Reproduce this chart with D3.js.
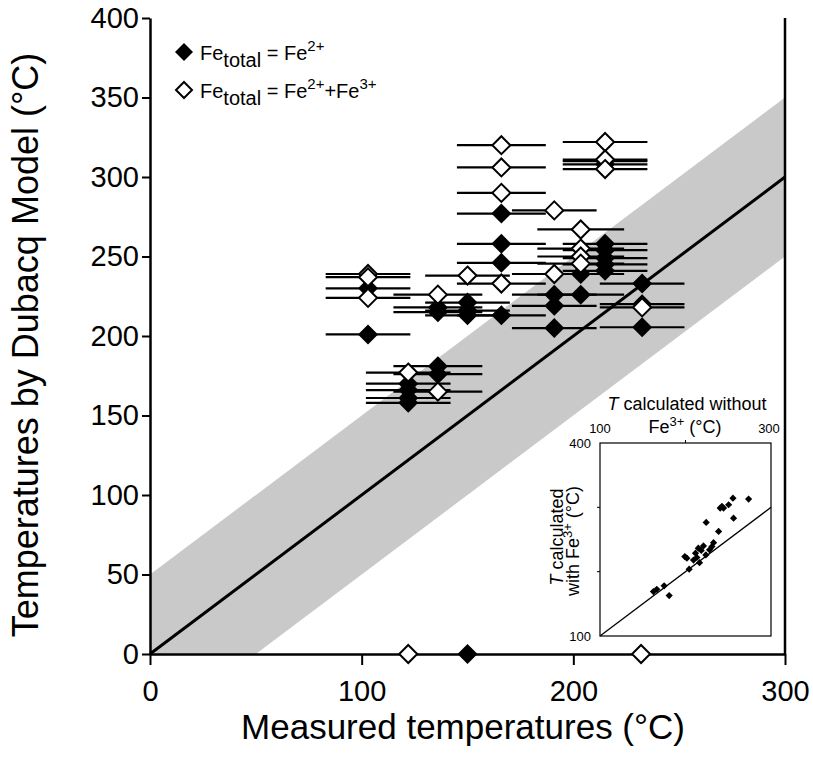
<!DOCTYPE html>
<html><head><meta charset="utf-8">
<script src="https://cdn.jsdelivr.net/npm/d3@7"></script>
<style>body{margin:0;background:#fff;} text{font-family:Arial,"Liberation Sans",sans-serif;}</style>
</head><body><svg id="c" width="813" height="774"></svg>
<script>
// ---- Data ----
// Fe_total = Fe2+ (filled diamonds): measured T, model T, measured-T error
const fe2Measured = [103,103,122,122,122,122,136,136,136,136,150,150,150,166,166,166,166,191,191,191,203.5,203.5,215,215,215,215,215,215,215,232.5,232.5,232.5];
const fe2Model    = [230,201,170,166,161,158,181,176,218,215,221,216,213,277,258,246,213,226,219,205,239,226,310,308,258,254,249,245,241,233,220,205.5];
const fe2Err      = [20,20,20,20,20,20,21,21,21,21,20,20,20,21,21,21,21,20,20,20,20.5,20.5,20,20,20,20,20,20,20,20,20,20];
// Fe_total = Fe2+ + Fe3+ (open diamonds)
const fe23Measured = [103,103,103,122,136,136,150,166,166,166,166,191,191,203.5,203.5,203.5,203.5,215,215,215,232.5];
const fe23Model    = [239,237,224,177,165,226,238,320,306,290,233,279,239,267,255,250,245.5,322,311,305,218];
const fe23Err      = [20,20,20,20,21,21,20,21,21,21,21,20,20,20.5,20.5,20.5,20.5,20,20,20,20];
// Samples plotted at 0 on the model axis
const fe2ZeroMeasured  = [150];
const fe23ZeroMeasured = [122, 232];
// Inset: T without Fe3+ vs T with Fe3+
const insetWithout = [162.5,166.4,175,180.9,204.3,199.2,201.6,211.7,213.3,216.4,218.4,221,223.8,228.1,230.9,232.8,238.7,224.2,240.6,242.6,244.5,250.4,255.5,256.2,273.8,209.4,215];
const insetWith    = [169,172.7,178,162.8,203.8,223.5,221,228.7,222,214,232.9,240,226,234,239,245,262.5,276.5,298.8,301.4,298.8,304,314.3,283.2,312.8,218,236.5];
// Axis ticks
const xTicks = [0,100,200,300];
const yTicks = [0,50,100,150,200,250,300,350,400];
const bandHalfWidth = 50;

// ---- Drawing ----
const svg = d3.select("#c");
const x = d3.scaleLinear().domain([0,300]).range([150,785]);
const y = d3.scaleLinear().domain([0,400]).range([654,18]);

svg.append("defs").append("clipPath").attr("id","clip")
  .append("rect").attr("x",150).attr("y",18).attr("width",635).attr("height",636);

// gray band
const band = [[0,0],[0,bandHalfWidth],[300,300+bandHalfWidth],[300,300-bandHalfWidth],[bandHalfWidth,0]];
svg.append("path").attr("clip-path","url(#clip)")
  .attr("d", d3.line().x(d=>x(d[0])).y(d=>y(d[1]))(band)+"Z")
  .attr("fill","#c9c9c9");

// 1:1 line
svg.append("line").attr("x1",x(0)).attr("y1",y(0)).attr("x2",x(300)).attr("y2",y(300))
  .attr("stroke","#000").attr("stroke-width",3);

// axes
const yAxis = svg.append("g").attr("transform","translate(150,0)")
  .call(d3.axisLeft(y).tickValues(yTicks).tickSize(8).tickSizeOuter(0).tickPadding(3));
const xAxis = svg.append("g").attr("transform","translate(0,654)")
  .call(d3.axisBottom(x).tickValues(xTicks).tickSize(11).tickSizeOuter(0).tickPadding(15));
[yAxis,xAxis].forEach(g=>{
  g.select(".domain").attr("stroke","#000").attr("stroke-width",2.5);
  g.selectAll(".tick line").attr("stroke","#000").attr("stroke-width",2);
  g.selectAll(".tick text").attr("font-size",29).attr("fill","#000").attr("font-family","Arial, Liberation Sans, sans-serif");
});
// right frame line
svg.append("line").attr("x1",785).attr("x2",785).attr("y1",18).attr("y2",654)
  .attr("stroke","#000").attr("stroke-width",2.5);

// error bars
const ebars = [];
fe2Measured.forEach((m,i)=>ebars.push([m,fe2Model[i],fe2Err[i]]));
fe23Measured.forEach((m,i)=>ebars.push([m,fe23Model[i],fe23Err[i]]));
svg.append("g").selectAll("line").data(ebars).join("line")
  .attr("x1",d=>x(d[0]-d[2])).attr("x2",d=>x(d[0]+d[2]))
  .attr("y1",d=>y(d[1])).attr("y2",d=>y(d[1]))
  .attr("stroke","#000").attr("stroke-width",2.2);

const diamond = r => `M0,${-r}L${r},0L0,${r}L${-r},0Z`;
const filledPts = fe2Measured.map((m,i)=>[m,fe2Model[i]]).concat(fe2ZeroMeasured.map(m=>[m,0]));
const openPts = fe23Measured.map((m,i)=>[m,fe23Model[i]]).concat(fe23ZeroMeasured.map(m=>[m,0]));
svg.append("g").selectAll("path").data(filledPts).join("path")
  .attr("transform",d=>`translate(${x(d[0])},${y(d[1])})`).attr("d",diamond(10)).attr("fill","#000");
svg.append("g").selectAll("path").data(openPts).join("path")
  .attr("transform",d=>`translate(${x(d[0])},${y(d[1])})`).attr("d",diamond(9))
  .attr("fill","#fff").attr("stroke","#000").attr("stroke-width",2);

// axis titles
svg.append("text").attr("transform","translate(38,345) rotate(-90)").attr("text-anchor","middle")
  .attr("font-size",36).text("Temperatures by Dubacq Model (°C)");
svg.append("text").attr("x",463).attr("y",739).attr("text-anchor","middle")
  .attr("font-size",35).text("Measured temperatures (°C)");

// legend
const lg = svg.append("g");
lg.append("path").attr("transform","translate(184,52)").attr("d",diamond(9)).attr("fill","#000");
lg.append("path").attr("transform","translate(184,90)").attr("d",diamond(8))
  .attr("fill","#fff").attr("stroke","#000").attr("stroke-width",2);
function legendText(yPos, parts){
  const t = lg.append("text").attr("x",200).attr("y",yPos).attr("font-size",20);
  parts.forEach(p=>{
    const s = t.append("tspan").text(p[0]);
    if(p[1]==="sub") s.attr("font-size",20).attr("dy",7);
    if(p[1]==="supAfterSub") s.attr("font-size",20).attr("dy",-7);
    if(p[1]==="sup") s.attr("font-size",15).attr("dy",-9);
    if(p[1]==="base") s.attr("dy",9);
  });
}
legendText(60,[["Fe"],["total","sub"],[" = Fe","supAfterSub"],["2+","sup"]]);
legendText(98,[["Fe"],["total","sub"],[" = Fe","supAfterSub"],["2+","sup"],["+Fe","base"],["3+","sup"]]);

// ---- Inset ----
const ix = d3.scaleLinear().domain([100,300]).range([600,771]);
const iy = d3.scaleLinear().domain([100,400]).range([636,443]);
const ins = svg.append("g");
ins.append("rect").attr("x",600).attr("y",443).attr("width",171).attr("height",193)
  .attr("fill","#fff").attr("stroke","#000").attr("stroke-width",1.2);
ins.append("line").attr("x1",ix(100)).attr("y1",iy(100)).attr("x2",ix(300)).attr("y2",iy(300))
  .attr("stroke","#000").attr("stroke-width",1.3);
// inset ticks
[200].forEach(v=>ins.append("line").attr("x1",ix(v)).attr("x2",ix(v)).attr("y1",443).attr("y2",440).attr("stroke","#000"));
[200,300].forEach(v=>ins.append("line").attr("x1",597).attr("x2",600).attr("y1",iy(v)).attr("y2",iy(v)).attr("stroke","#000"));
ins.append("text").attr("x",ix(100)).attr("y",433).attr("text-anchor","middle").attr("font-size",13).text("100");
ins.append("text").attr("x",ix(300)-2).attr("y",433).attr("text-anchor","middle").attr("font-size",13).text("300");
ins.append("text").attr("x",591).attr("y",iy(400)+5).attr("text-anchor","end").attr("font-size",13).text("400");
ins.append("text").attr("x",591).attr("y",iy(100)+5).attr("text-anchor","end").attr("font-size",13).text("100");
ins.selectAll("path.pt").data(insetWithout.map((v,i)=>[v,insetWith[i]])).join("path").attr("class","pt")
  .attr("transform",d=>`translate(${ix(d[0])},${iy(d[1])})`).attr("d",diamond(3.6)).attr("fill","#000");
// inset titles
const t1 = ins.append("text").attr("x",687).attr("y",410).attr("text-anchor","middle").attr("font-size",18);
t1.append("tspan").attr("font-style","italic").text("T");
t1.append("tspan").text(" calculated without");
const t2 = ins.append("text").attr("x",685).attr("y",433).attr("text-anchor","middle").attr("font-size",18);
t2.append("tspan").text("Fe");
t2.append("tspan").attr("font-size",13).attr("dy",-7).text("3+");
t2.append("tspan").attr("dy",7).text(" (°C)");
const t3 = ins.append("text").attr("transform","translate(563,537) rotate(-90)").attr("text-anchor","middle").attr("font-size",18);
t3.append("tspan").attr("font-style","italic").text("T");
t3.append("tspan").text(" calculated");
const t4 = ins.append("text").attr("transform","translate(579,541) rotate(-90)").attr("text-anchor","middle").attr("font-size",18);
t4.append("tspan").text("with Fe");
t4.append("tspan").attr("font-size",13).attr("dy",-7).text("3+");
t4.append("tspan").attr("dy",7).text(" (°C)");
</script></body></html>
